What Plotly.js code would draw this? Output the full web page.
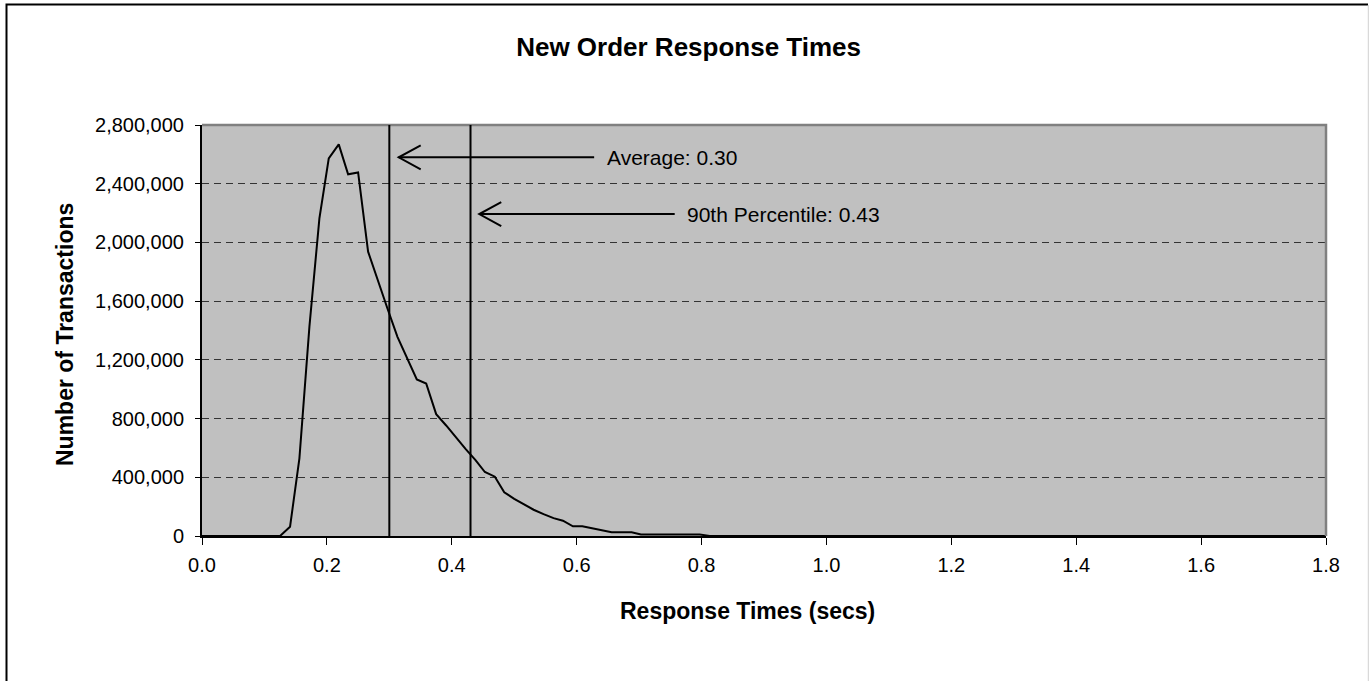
<!DOCTYPE html>
<html>
<head>
<meta charset="utf-8">
<script src="https://cdn.plot.ly/plotly-3.0.1.min.js"></script>
<style>
html,body{margin:0;padding:0;background:#fff;}
#chart{width:1369px;height:681px;}
</style>
</head>
<body>
<div id="chart"></div>
<script>
// ---- data ----
const responseTimes = [0.000, 0.125, 0.141, 0.156, 0.172, 0.188, 0.203, 0.219, 0.234, 0.250,
  0.266, 0.281, 0.297, 0.313, 0.328, 0.344, 0.359, 0.375, 0.391, 0.406,
  0.422, 0.438, 0.453, 0.469, 0.484, 0.500, 0.516, 0.531, 0.547, 0.563,
  0.578, 0.594, 0.609, 0.625, 0.641, 0.656, 0.672, 0.688, 0.703, 0.719,
  0.734, 0.750, 0.766, 0.781, 0.797, 0.813, 1.800];
const transactions = [0, 0, 63000, 529000, 1425000, 2164000, 2573000, 2668000, 2464000, 2477000,
  1937000, 1742000, 1550000, 1357000, 1212000, 1066000, 1039000, 830000, 753000, 674000,
  594000, 517000, 436000, 404000, 298000, 253000, 215000, 179000, 149000, 122000,
  104000, 66000, 66000, 52000, 38000, 25000, 25000, 25000, 11000, 11000,
  11000, 11000, 11000, 11000, 11000, 0, 0];
const averageTime = 0.30;
const percentile90Time = 0.43;
const averageLabel = "Average: 0.30";
const percentile90Label = "90th Percentile: 0.43";
const yTickVals = [0, 400000, 800000, 1200000, 1600000, 2000000, 2400000, 2800000];
const xTickVals = [0.0, 0.2, 0.4, 0.6, 0.8, 1.0, 1.2, 1.4, 1.6, 1.8];
const chartTitle = "New Order Response Times";
const xTitle = "Response Times (secs)";
const yTitle = "Number of Transactions";
// arrow positions (data coords): tip x, tip y, tail x, label x
const avgArrow = {tipX: 0.315, tipY: 2580000, tailX: 0.628, labelX: 0.646};
const p90Arrow = {tipX: 0.444, tipY: 2193000, tailX: 0.757, labelX: 0.773};

// ---- layout geometry ----
const W = 1369, H = 681;
const M = {l: 202, r: 43, t: 125, b: 145};
const PW = W - M.l - M.r, PH = H - M.t - M.b;
const px2paperX = px => (px - M.l) / PW;
const py2paperY = py => (H - M.b - py) / PH;

const FONT = "Arial, 'Liberation Sans', sans-serif";

const trace = {
  x: responseTimes, y: transactions, type: 'scatter', mode: 'lines',
  line: {color: '#000', width: 2}, hoverinfo: 'x+y', showlegend: false
};

function arrowShapes(a) {
  return [
    {type: 'line', xref: 'x', yref: 'y', x0: a.tipX, x1: a.tailX, y0: a.tipY, y1: a.tipY,
     line: {color: '#000', width: 2}},
    {type: 'path', xref: 'x', yref: 'y', xsizemode: 'pixel', ysizemode: 'pixel',
     xanchor: a.tipX, yanchor: a.tipY, path: 'M22,12 L0,0 L22,-12',
     line: {color: '#000', width: 2}}
  ];
}

const shapes = [
  // plot-area top/right gray border
  {type: 'path', xref: 'paper', yref: 'paper', path: 'M0,1 L1,1 L1,0', line: {color: '#808080', width: 2.5}},
  // vertical markers
  {type: 'line', xref: 'x', yref: 'y', x0: averageTime, x1: averageTime, y0: 0, y1: 2800000, line: {color: '#000', width: 2}},
  {type: 'line', xref: 'x', yref: 'y', x0: percentile90Time, x1: percentile90Time, y0: 0, y1: 2800000, line: {color: '#000', width: 2}},
  ...arrowShapes(avgArrow),
  ...arrowShapes(p90Arrow),
  // outer frame
  {type: 'path', xref: 'paper', yref: 'paper',
   path: `M${px2paperX(6.5)},${py2paperY(700)} L${px2paperX(6.5)},${py2paperY(4.5)} L${px2paperX(1368)},${py2paperY(4.5)}`,
   line: {color: '#000', width: 2}},
  {type: 'line', xref: 'paper', yref: 'paper', x0: px2paperX(1368.3), x1: px2paperX(1368.3), y0: py2paperY(5), y1: py2paperY(700),
   line: {color: '#d0d0d0', width: 1}}
];

const annotations = [
  {text: averageLabel, xref: 'x', yref: 'y', x: avgArrow.labelX, y: avgArrow.tipY, xanchor: 'left', yanchor: 'middle',
   showarrow: false, font: {family: FONT, size: 21, color: '#000'}},
  {text: percentile90Label, xref: 'x', yref: 'y', x: p90Arrow.labelX, y: p90Arrow.tipY, xanchor: 'left', yanchor: 'middle',
   showarrow: false, font: {family: FONT, size: 21, color: '#000'}},
  {text: '<b>' + xTitle + '</b>', xref: 'paper', yref: 'paper', x: px2paperX(747), y: py2paperY(611),
   xanchor: 'center', yanchor: 'middle', showarrow: false, font: {family: FONT, size: 23, color: '#000'}},
  {text: '<b>' + yTitle + '</b>', xref: 'paper', yref: 'paper', x: px2paperX(65), y: py2paperY(335),
   xanchor: 'center', yanchor: 'middle', textangle: -90, showarrow: false, font: {family: FONT, size: 23, color: '#000'}}
];

const layout = {
  width: W, height: H,
  margin: M,
  paper_bgcolor: '#fff', plot_bgcolor: '#c0c0c0',
  font: {family: FONT, size: 20, color: '#000'},
  title: {text: '<b>' + chartTitle + '</b>', x: 0.503, xref: 'container', xanchor: 'center',
          y: 1 - 47 / H, yref: 'container', yanchor: 'middle', font: {family: FONT, size: 26, color: '#000'}},
  xaxis: {range: [0, 1.8], tickvals: xTickVals, tickformat: '.1f', ticks: 'outside', ticklen: 7, tickwidth: 1,
          tickcolor: '#000', showline: true, linecolor: '#000', linewidth: 2, showgrid: false, zeroline: false,
          ticklabelstandoff: 3, fixedrange: true},
  yaxis: {range: [0, 2800000], tickvals: yTickVals, tickformat: ',d', ticks: 'outside', ticklen: 5, tickwidth: 1,
          tickcolor: '#000', showline: true, linecolor: '#000', linewidth: 2, showgrid: true, gridcolor: '#333',
          gridwidth: 1, griddash: '7px,5px', zeroline: false, ticklabelstandoff: 7, fixedrange: true},
  shapes: shapes,
  annotations: annotations,
  showlegend: false
};

Plotly.newPlot('chart', [trace], layout, {displayModeBar: false, staticPlot: true});
</script>
</body>
</html>
